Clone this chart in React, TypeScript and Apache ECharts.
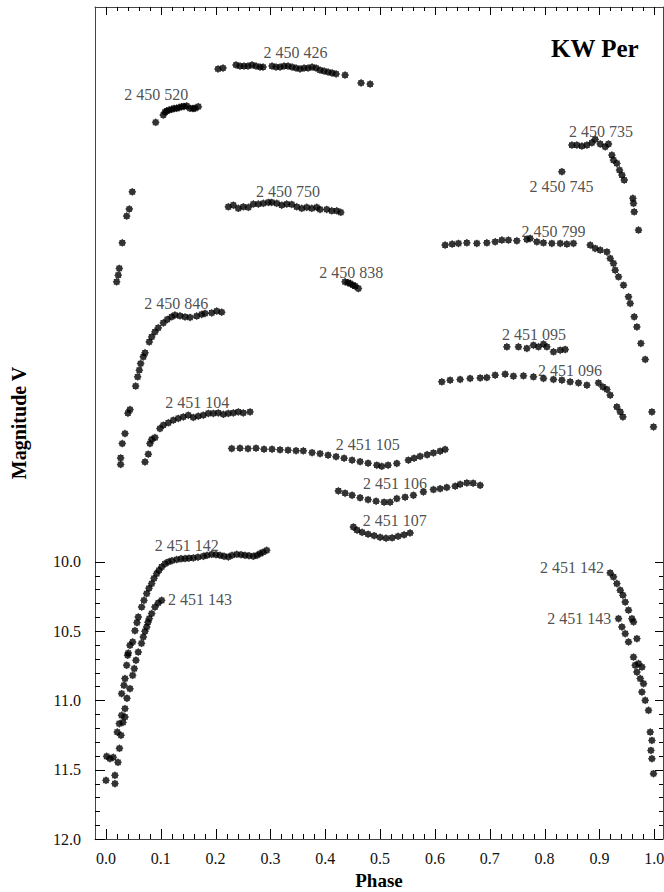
import React, { useEffect, useRef } from "react";
import * as echarts from "echarts";

// ---------- Axis ticks ----------
const xMajorTicks = [0, 0.1, 0.2, 0.3, 0.4, 0.5, 0.6, 0.7, 0.8, 0.9, 1.0];
const xTickLabels = ["0.0", "0.1", "0.2", "0.3", "0.4", "0.5", "0.6", "0.7", "0.8", "0.9", "1.0"];
const yMajorTicks = [10, 10.5, 11, 11.5, 12];
const yTickLabels = ["10.0", "10.5", "11.0", "11.5", "12.0"];

// ---------- Light-curve data: [phase, V magnitude (shifted)] ----------
const n2450426 = [
  [0.2044, 6.447], [0.2135, 6.44], [0.2372, 6.418], [0.2445, 6.426], [0.2518, 6.426], [0.2591, 6.426],
  [0.2664, 6.418], [0.2737, 6.426], [0.281, 6.433], [0.2865, 6.433], [0.3029, 6.426], [0.3102, 6.433],
  [0.3175, 6.433], [0.3248, 6.426], [0.3321, 6.426], [0.3394, 6.433], [0.3467, 6.44], [0.354, 6.447],
  [0.3613, 6.44], [0.3686, 6.44], [0.3759, 6.433], [0.3832, 6.44], [0.3905, 6.455], [0.3978, 6.462],
  [0.4051, 6.469], [0.4124, 6.476], [0.4197, 6.483], [0.4361, 6.491], [0.4653, 6.548], [0.4818, 6.556],
];
const n2450520 = [
  [0.0907, 6.832], [0.1046, 6.779], [0.1077, 6.758], [0.1108, 6.75], [0.115, 6.743], [0.1199, 6.738],
  [0.1241, 6.732], [0.129, 6.731], [0.1332, 6.725], [0.1381, 6.719], [0.1423, 6.717], [0.1473, 6.714],
  [0.1533, 6.731], [0.1588, 6.732], [0.1624, 6.731], [0.1684, 6.719],
];
const riseA = [
  [0.048, 7.333], [0.0425, 7.457], [0.0378, 7.508], [0.0297, 7.701], [0.0243, 7.885], [0.0224, 7.934], [0.0195, 7.982],
];
const n2450735 = [
  [0.8498, 6.996], [0.8589, 6.996], [0.8681, 7.003], [0.8772, 6.996], [0.8863, 6.979], [0.8923, 6.955],
  [0.9015, 6.988], [0.9106, 7.008], [0.9166, 6.988], [0.9228, 7.068], [0.9257, 7.104], [0.9319, 7.128],
  [0.9367, 7.176], [0.9411, 7.212], [0.9453, 7.248], [0.9611, 7.38], [0.9622, 7.416], [0.9635, 7.477],
  [0.9714, 7.609],
];
const n2450745 = [[0.8316, 7.188]];
const n2450750 = [
  [0.2232, 7.441], [0.2323, 7.429], [0.2414, 7.452], [0.2505, 7.441], [0.2597, 7.445], [0.2688, 7.421],
  [0.2779, 7.421], [0.287, 7.416], [0.2962, 7.409], [0.3024, 7.409], [0.3115, 7.416], [0.3206, 7.429],
  [0.3297, 7.421], [0.3389, 7.424], [0.348, 7.441], [0.3571, 7.452], [0.3662, 7.445], [0.3754, 7.452],
  [0.3845, 7.445], [0.3905, 7.46], [0.4027, 7.46], [0.4119, 7.47], [0.421, 7.47], [0.4283, 7.481],
];
const n2450838 = [
  [0.4361, 7.982], [0.4416, 7.988], [0.4453, 7.994], [0.4507, 8.006], [0.4544, 8.013], [0.4604, 8.03],
];
const n2450846 = [
  [0.0542, 8.734], [0.0578, 8.667], [0.0608, 8.619], [0.0633, 8.571], [0.0681, 8.523], [0.0712, 8.494],
  [0.079, 8.415], [0.0834, 8.379], [0.0894, 8.343], [0.0954, 8.314], [0.1046, 8.278], [0.1119, 8.253],
  [0.1199, 8.234], [0.1259, 8.222], [0.135, 8.227], [0.1442, 8.235], [0.1533, 8.239], [0.1655, 8.229],
  [0.1746, 8.217], [0.1807, 8.21], [0.1929, 8.206], [0.202, 8.193], [0.2111, 8.201],
];
const riseB = [
  [0.0438, 8.903], [0.0401, 8.929], [0.0347, 9.076], [0.0297, 9.148], [0.0268, 9.252], [0.0268, 9.299],
];
const n2451104 = [
  [0.0712, 9.281], [0.0772, 9.225], [0.0803, 9.148], [0.0834, 9.119], [0.0894, 9.105], [0.0985, 9.04],
  [0.1046, 9.016], [0.1137, 8.999], [0.1228, 8.98], [0.1319, 8.967], [0.1411, 8.956], [0.1502, 8.944],
  [0.1593, 8.96], [0.1684, 8.951], [0.1776, 8.944], [0.1867, 8.931], [0.1958, 8.931], [0.2049, 8.927],
  [0.2141, 8.937], [0.2232, 8.931], [0.2323, 8.927], [0.2414, 8.92], [0.2505, 8.927], [0.2628, 8.92],
];
const n2451105 = [
  [0.2294, 9.184], [0.2445, 9.182], [0.2591, 9.185], [0.2737, 9.182], [0.2883, 9.189], [0.3029, 9.189],
  [0.3175, 9.193], [0.3321, 9.196], [0.3467, 9.2], [0.36, 9.201], [0.3759, 9.214], [0.3905, 9.221],
  [0.4051, 9.232], [0.4197, 9.243], [0.4343, 9.254], [0.4489, 9.268], [0.4635, 9.279], [0.4781, 9.29],
  [0.494, 9.304], [0.5031, 9.312], [0.5146, 9.304], [0.5305, 9.292], [0.5516, 9.268], [0.562, 9.254],
  [0.573, 9.24], [0.5858, 9.229], [0.5973, 9.216], [0.6095, 9.203], [0.6186, 9.191],
];
const n2451106 = [
  [0.4239, 9.49], [0.4361, 9.506], [0.4489, 9.521], [0.4635, 9.539], [0.4781, 9.553], [0.4927, 9.564],
  [0.5073, 9.571], [0.5182, 9.571], [0.5305, 9.545], [0.5456, 9.535], [0.5608, 9.521], [0.579, 9.497],
  [0.5973, 9.48], [0.6095, 9.474], [0.6217, 9.465], [0.6369, 9.456], [0.646, 9.442], [0.6582, 9.432],
  [0.6697, 9.434], [0.6825, 9.449],
];
const n2451107 = [
  [0.4513, 9.75], [0.458, 9.773], [0.4672, 9.788], [0.4781, 9.802], [0.4891, 9.813], [0.5, 9.824],
  [0.5109, 9.831], [0.5219, 9.828], [0.5328, 9.817], [0.5438, 9.806], [0.5547, 9.793],
];
const n2450799 = [
  [0.6186, 7.717], [0.6314, 7.71], [0.6429, 7.705], [0.6582, 7.701], [0.6765, 7.705], [0.6947, 7.701],
  [0.7099, 7.693], [0.7221, 7.681], [0.7341, 7.681], [0.7494, 7.686], [0.7677, 7.676], [0.7737, 7.669],
  [0.7859, 7.693], [0.798, 7.701], [0.8133, 7.705], [0.8285, 7.705], [0.8407, 7.71], [0.8527, 7.705],
  [0.8832, 7.717], [0.8923, 7.741], [0.9015, 7.753], [0.9137, 7.766], [0.9197, 7.813], [0.9257, 7.849],
  [0.9288, 7.898], [0.9349, 7.946], [0.944, 8.006], [0.9531, 8.09], [0.9562, 8.138], [0.9635, 8.234],
  [0.9684, 8.307], [0.9757, 8.426], [0.9836, 8.542], [0.9958, 8.92], [0.9987, 9.028],
];
const n2451095 = [
  [0.7312, 8.451], [0.7524, 8.451], [0.7677, 8.462], [0.7797, 8.439], [0.7889, 8.451], [0.798, 8.431],
  [0.8042, 8.451], [0.8163, 8.487], [0.8285, 8.475], [0.8376, 8.47],
];
const n2451096 = [
  [0.6126, 8.703], [0.6277, 8.691], [0.646, 8.686], [0.6642, 8.679], [0.6825, 8.675], [0.6947, 8.672],
  [0.7099, 8.655], [0.7281, 8.648], [0.7432, 8.662], [0.7615, 8.66], [0.7797, 8.667], [0.798, 8.679],
  [0.8162, 8.686], [0.8316, 8.691], [0.8467, 8.703], [0.8619, 8.711], [0.8772, 8.727], [0.8984, 8.711],
  [0.9064, 8.74], [0.9137, 8.758], [0.9197, 8.799], [0.9319, 8.884], [0.938, 8.92], [0.9429, 8.956],
];
const n2451142 = [
  [0.0013, 11.404], [0.0073, 11.421], [0.0133, 11.411], [0.0206, 11.229], [0.0243, 11.168], [0.0286, 11.108],
  [0.0286, 10.952], [0.0328, 10.892], [0.0347, 10.843], [0.0378, 10.747], [0.0396, 10.675], [0.0407, 10.659],
  [0.0438, 10.603], [0.0487, 10.579], [0.0529, 10.498], [0.0566, 10.44], [0.0589, 10.399], [0.0651, 10.327],
  [0.0693, 10.279], [0.0743, 10.23], [0.0785, 10.192], [0.0834, 10.158], [0.0876, 10.12], [0.0925, 10.086],
  [0.0967, 10.062], [0.1016, 10.038], [0.1077, 10.015], [0.1137, 10.002], [0.1204, 9.993], [0.129, 9.985],
  [0.1369, 9.979], [0.1442, 9.978], [0.1515, 9.975], [0.1593, 9.973], [0.1679, 9.968], [0.1776, 9.961],
  [0.1843, 9.954], [0.1929, 9.947], [0.2007, 9.95], [0.208, 9.954], [0.2153, 9.961], [0.2232, 9.966],
  [0.2299, 9.954], [0.2385, 9.947], [0.2464, 9.95], [0.2536, 9.954], [0.2609, 9.957], [0.2688, 9.961],
  [0.2755, 9.954], [0.281, 9.942], [0.2865, 9.932], [0.2932, 9.918],
  [0.9197, 10.081], [0.9257, 10.11], [0.9319, 10.158], [0.938, 10.206], [0.9429, 10.242], [0.9471, 10.291],
  [0.9531, 10.35], [0.9593, 10.411], [0.9622, 10.435], [0.9684, 10.555],
];
const n2451143 = [
  [0.0, 11.577], [0.0164, 11.541], [0.0164, 11.601], [0.0219, 11.447], [0.0246, 11.346], [0.0274, 11.252],
  [0.031, 11.159], [0.0347, 11.12], [0.0347, 11.06], [0.0383, 10.985], [0.0438, 10.916], [0.0487, 10.82],
  [0.0516, 10.771], [0.0547, 10.711], [0.0589, 10.652], [0.0648, 10.589], [0.0681, 10.543], [0.0712, 10.502],
  [0.0743, 10.471], [0.0766, 10.437], [0.079, 10.411], [0.0834, 10.374], [0.0894, 10.327], [0.0954, 10.298],
  [0.1016, 10.279],
  [0.9349, 10.411], [0.9411, 10.471], [0.9471, 10.519], [0.9531, 10.579], [0.9622, 10.688], [0.9653, 10.747],
  [0.9714, 10.735], [0.9776, 10.76], [0.9684, 10.796], [0.9745, 10.843], [0.9805, 10.88], [0.9776, 10.94],
  [0.9836, 11.0], [0.9896, 11.072], [0.9927, 11.229], [0.9958, 11.289], [0.994, 11.361], [0.9958, 11.421],
  [0.9987, 11.529],
];

const nights = [
  n2450426, n2450520, riseA, n2450735, n2450745, n2450750, n2450838, n2450846, riseB,
  n2451104, n2451105, n2451106, n2451107, n2450799, n2451095, n2451096, n2451142, n2451143,
];

// Annotation texts with anchor in data units [phase, magnitude]
const noteTexts = [
  "2 450 426", "2 450 520", "2 450 735", "2 450 745", "2 450 750", "2 450 799", "2 450 838", "2 450 846",
  "2 451 095", "2 451 096", "2 451 104", "2 451 105", "2 451 106", "2 451 107",
  "2 451 142", "2 451 143", "2 451 142", "2 451 143",
];
const notePhase = [
  0.3455, 0.0918, 0.9027, 0.8309, 0.3318, 0.8163, 0.4476, 0.1281,
  0.7807, 0.8462, 0.1664, 0.4775, 0.5274, 0.5268,
  0.1473, 0.1715, 0.8498, 0.8631,
];
const noteMag = [
  6.325, 6.63, 6.895, 7.297, 7.328, 7.616, 7.917, 8.138,
  8.359, 8.62, 8.855, 9.153, 9.437, 9.701,
  9.882, 10.271, 10.043, 10.411,
];

const SERIF = "Liberation Serif";

function starSymbol(): string {
  let d = "";
  for (let i = 0; i < 16; i++) {
    const a = (i * Math.PI) / 8 - Math.PI / 2;
    const r = i % 2 === 0 ? 1 : 0.78;
    d += (i === 0 ? "M" : "L") + (r * Math.cos(a)).toFixed(3) + " " + (r * Math.sin(a)).toFixed(3) + " ";
  }
  return "path://" + d + "Z";
}

function minorOf(majors: number[], parts: number): number[] {
  const out: number[] = [];
  for (let i = 0; i < majors.length - 1; i++) {
    const step = (majors[i + 1] - majors[i]) / parts;
    for (let k = 1; k < parts; k++) out.push(Math.round((majors[i] + k * step) * 10000) / 10000);
  }
  return out;
}

export default function App() {
  const ref = useRef<HTMLDivElement>(null);
  useEffect(() => {
    if (!ref.current) return;
    const chart = echarts.init(ref.current, undefined, { renderer: "svg" });
    const star = starSymbol();
    const xMin = -0.02, xMax = 1.016, yMin = 6, yMax = 12;
    const xMinor = minorOf(xMajorTicks, 5);
    const yMinor = minorOf(yMajorTicks, 5);
    const lineColor = "#444";
    const tickColor = "#000";

    const xLabelFmt = (v: number) => {
      const i = xMajorTicks.findIndex((t) => Math.abs(t - v) < 1e-6);
      return i >= 0 ? xTickLabels[i] : "";
    };
    const yLabelFmt = (v: number) => {
      const i = yMajorTicks.findIndex((t) => Math.abs(t - v) < 1e-6);
      return i >= 0 ? yTickLabels[i] : "";
    };

    const xAxis: any[] = [
      {
        type: "value", min: xMin, max: xMax, position: "bottom",
        axisLine: { show: true, onZero: false, lineStyle: { color: lineColor } },
        axisTick: { show: false },
        axisLabel: {
          show: true, customValues: xMajorTicks, margin: 11, formatter: xLabelFmt,
          fontFamily: SERIF, fontSize: 16, color: "#111",
        },
        splitLine: { show: false },
        name: "Phase", nameLocation: "middle", nameGap: 31,
        nameTextStyle: { fontFamily: SERIF, fontSize: 19, fontWeight: "bold", color: "#000" },
      },
      {
        type: "value", min: xMin, max: xMax, position: "top",
        axisLine: { show: true, onZero: false, lineStyle: { color: lineColor } },
        axisTick: { show: false }, axisLabel: { show: false }, splitLine: { show: false },
      },
    ];
    const yAxis: any[] = [
      {
        type: "value", min: yMin, max: yMax, inverse: true, position: "left",
        axisLine: { show: true, onZero: false, lineStyle: { color: lineColor } },
        axisTick: { show: false },
        axisLabel: {
          show: true, customValues: yMajorTicks, margin: 14, formatter: yLabelFmt,
          fontFamily: SERIF, fontSize: 16, color: "#111",
        },
        splitLine: { show: false },
        name: "Magnitude V", nameLocation: "middle", nameGap: 66, nameRotate: 90,
        nameTextStyle: { fontFamily: SERIF, fontSize: 20, fontWeight: "bold", color: "#000" },
      },
      {
        type: "value", min: yMin, max: yMax, inverse: true, position: "right",
        axisLine: { show: true, onZero: false, lineStyle: { color: lineColor } },
        axisTick: { show: false }, axisLabel: { show: false }, splitLine: { show: false },
      },
    ];

    const series: any[] = nights.map((pts) => ({
      type: "scatter",
      xAxisIndex: 0,
      yAxisIndex: 0,
      symbol: star,
      symbolSize: 8,
      itemStyle: { color: "#000" },
      data: pts,
      silent: true,
      z: 2,
    }));
    series.push({
      type: "scatter",
      xAxisIndex: 0,
      yAxisIndex: 0,
      symbolSize: 0,
      silent: true,
      data: noteTexts.map((t, i) => ({ name: t, value: [notePhase[i], noteMag[i]] })),
      label: {
        show: true, position: "inside", formatter: "{b}",
        fontFamily: SERIF, fontSize: 16, color: "#222",
      },
      labelLayout: { hideOverlap: false },
      z: 3,
    });

    chart.setOption({
      animation: false,
      backgroundColor: "#fff",
      grid: {
        left: 95, right: 1, top: 7, bottom: 53, containLabel: false,
        outerBounds: { left: -200, right: -200, top: -200, bottom: -200 },
      },
      xAxis,
      yAxis,
      series,
    });

    // Tick marks placed through the axis scales (convertToPixel), drawn as thin filled rects.
    const toPx = (x: number, y: number) => chart.convertToPixel({ xAxisIndex: 0, yAxisIndex: 0 } as any, [x, y]) as number[];
    const ticks: any[] = [];
    const addTick = (x: number, y: number, dx: number, dy: number) => {
      const p = toPx(x, y);
      if (!p || !isFinite(p[0]) || !isFinite(p[1])) return;
      const px = Math.round(p[0]);
      const py = Math.round(p[1]);
      const shape =
        dy === 0
          ? { x: dx > 0 ? px : px + dx, y: py, width: Math.abs(dx), height: 1 }
          : { x: px, y: dy > 0 ? py : py + dy, width: 1, height: Math.abs(dy) };
      ticks.push({ type: "rect", silent: true, z: 100, shape, style: { fill: tickColor } });
    };
    xMajorTicks.forEach((v) => { addTick(v, yMax, 0, -10); addTick(v, yMin, 0, 8); });
    xMinor.forEach((v) => { addTick(v, yMax, 0, -5); addTick(v, yMin, 0, 4); });
    yMajorTicks.forEach((v) => { addTick(xMin, v, 10, 0); addTick(xMax, v, -8, 0); });
    yMinor.forEach((v) => { addTick(xMin, v, 5, 0); addTick(xMax, v, -4, 0); });

    chart.setOption({
      graphic: [
        {
          type: "text",
          left: 551,
          top: 36,
          style: { text: "KW Per", fontFamily: SERIF, fontSize: 25, fontWeight: "bold", fill: "#000" },
        },
        ...ticks,
      ],
    });
    return () => chart.dispose();
  }, []);
  return (
    <div
      ref={ref}
      style={{ position: "fixed", left: 0, top: 0, width: 664, height: 892, background: "#fff" }}
    />
  );
}
